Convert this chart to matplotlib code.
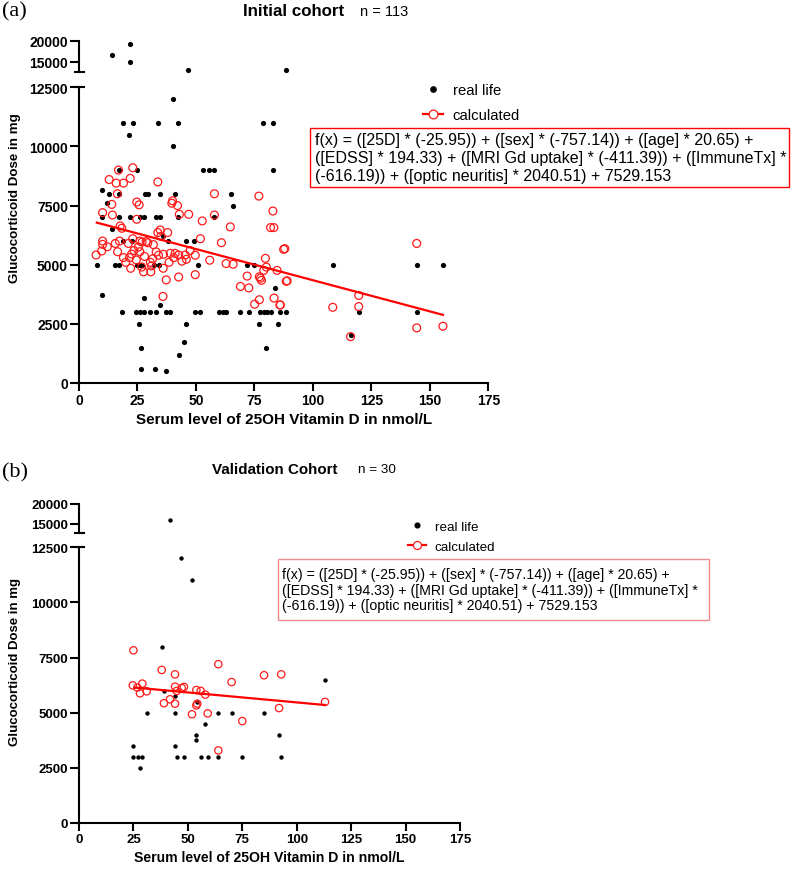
import numpy as np
import matplotlib
matplotlib.use("Agg")
import matplotlib.pyplot as plt
import matplotlib.patches as patch
from matplotlib.lines import Line2D

plt.rcParams['font.family'] = ['Liberation Sans', 'DejaVu Sans']

W, H = 794, 870

# (a) initial cohort, real life doses
init_real_x = [14.2, 22.0, 21.8, 46.4, 88.3,
               40.0,
               19.0, 23.0, 33.7, 42.4, 78.7, 82.9,
               21.4, 40.1,
               16.9, 24.7, 52.9, 55.6, 57.9, 82.9,
               9.9, 12.9, 17.3, 28.1, 29.4, 34.7, 40.9, 64.9,
               11.9, 65.9,
               10.0, 17.3, 21.6, 25.9, 27.6, 33.0, 34.7, 42.4, 57.9,
               14.0, 35.9, 18.7, 22.6, 37.9, 45.9, 49.0,
               7.6, 15.4, 17.3, 24.7, 26.1, 27.1, 32.1, 34.4, 50.9, 71.9, 75.0, 108.5, 144.4, 155.6,
               83.6, 10.0, 27.9, 34.7,
               18.4, 24.4, 26.1, 27.9, 30.4, 33.0, 37.3, 39.0, 49.7, 51.9, 59.7, 61.6,
               63.0, 69.0, 72.7, 77.3, 79.0, 80.4, 82.3, 86.1, 88.3, 119.6, 144.4,
               25.7, 45.7, 77.0, 85.0,
               116.1, 45.1, 26.6, 79.9, 42.7, 26.6, 32.4, 37.3]
init_real_y = [16600, 19200, 15000, 13000, 13000,
               12000,
               11000, 11000, 11000, 11000, 11000, 11000,
               10500, 10000,
               9000, 9000, 9000, 9000, 9000, 9000,
               8150, 8000, 8000, 8000, 8000, 8000, 8000, 8000,
               7600, 7500,
               7000, 7000, 7000, 7000, 7000, 7000, 7000, 7000, 7000,
               6500, 6200, 6000, 6000, 6000, 6000, 6000,
               5000, 5000, 5000, 5000, 5000, 5000, 5000, 5000, 5000, 5000, 5000, 5000, 5000, 5000,
               4000, 3700, 3600, 3300,
               3000, 3000, 3000, 3000, 3000, 3000, 3000, 3000, 3000, 3000, 3000, 3000,
               3000, 3000, 3000, 3000, 3000, 3000, 3000, 3000, 3000, 3000, 3000,
               2500, 2500, 2500, 2500,
               2050, 1750, 1500, 1500, 1200, 600, 600, 500]

# (a) initial cohort, calculated doses
init_calc_x = [23.0, 16.9, 12.9, 15.9, 19.0, 21.9, 33.7, 16.4, 14.0, 24.7,
               25.7, 40.0, 39.7, 42.1, 57.9, 76.9, 10.1, 14.3, 42.9, 46.9,
               24.7, 52.7, 57.9, 82.9, 64.7, 81.9, 83.3, 17.6, 18.3, 10.1,
               10.1, 7.3, 9.7, 12.1, 17.3, 21.1, 26.0, 27.0, 28.7, 25.4,
               26.0, 29.4, 33.7, 34.7, 37.9, 33.0, 34.0, 36.1, 39.0, 41.1,
               42.6, 45.4, 45.9, 49.7, 51.9, 55.9, 60.9, 62.9, 65.9, 71.9,
               79.7, 79.0, 84.7, 88.0, 77.1, 19.0, 21.6, 22.1, 27.6, 30.7,
               37.3, 42.6, 49.7, 35.9, 69.0, 72.6, 75.1, 77.6, 78.0, 80.1,
               83.4, 85.9, 89.0, 77.1, 144.4, 87.5, 88.6, 119.6, 108.5, 119.6,
               86.1, 144.4, 155.6, 116.1,
               23.5, 24.5, 28.0, 30.5, 31.5, 20.0, 15.5, 23.0, 31.8, 35.0,
               38.5, 40.5, 44.0, 47.5, 22.5, 26.8, 31.0, 36.0, 16.5]
init_calc_y = [9100, 9000, 8600, 8450, 8450, 8650, 8500, 8000, 7550, 7650,
               7530, 7700, 7600, 7500, 8000, 7900, 7200, 7100, 7130, 7130,
               6920, 6850, 7100, 7270, 6600, 6570, 6570, 6640, 6540, 6000,
               5860, 5410, 5580, 5760, 6000, 5900, 6000, 5960, 5980, 5750,
               5550, 5930, 6360, 6470, 6360, 5540, 5400, 5440, 5480, 5480,
               5410, 5410, 5230, 5400, 6100, 5190, 5930, 5050, 5020, 4520,
               5270, 4760, 4760, 5680, 4490, 5300, 5300, 4850, 4700, 4700,
               4360, 4480, 4580, 3660, 4080, 4020, 3330, 4430, 4340, 4900,
               3590, 3300, 4320, 3520, 5900, 5650, 4300, 3700, 3200, 3230,
               3300, 2330, 2400, 1960,
               5600, 5200, 5350, 5100, 5250, 5100, 5900, 6100, 5850, 6200,
               5100, 5300, 5150, 5600, 5450, 4900, 4950, 4850, 5550]
init_fit_x = [7.6, 155.6]
init_fit_y = [6780, 2880]

# (b) validation cohort
val_real_x = [41.9, 46.9, 52.1, 38.0, 39.0, 44.1, 44.1, 31.1, 54.1, 64.0,
              70.1, 85.0, 57.9, 53.9, 53.9, 91.9, 25.0, 44.1, 25.0, 27.3,
              29.1, 44.9, 48.1, 56.0, 59.1, 64.0, 75.0, 92.9, 28.0, 113.0]
val_real_y = [16000, 12000, 11000, 8000, 6000, 5750, 5000, 5000, 5500, 5000,
              5000, 5000, 4500, 4000, 3750, 4000, 3500, 3500, 3000, 3000,
              3000, 3000, 3000, 3000, 3000, 3000, 3000, 3000, 2500, 6500]
val_calc_x = [25.0, 24.7, 26.8, 28.0, 29.1, 31.1, 38.0, 39.0, 41.8, 44.1,
              44.1, 44.1, 44.9, 47.2, 48.2, 51.9, 53.9, 53.9, 54.3, 55.9,
              58.0, 59.1, 64.0, 64.0, 70.1, 75.0, 85.0, 91.9, 92.9, 113.0]
val_calc_y = [7830, 6240, 6140, 5880, 6320, 5970, 6940, 5430, 5610, 6740,
              6180, 5410, 5990, 6120, 6170, 4930, 6030, 5330, 5410, 5990,
              5820, 4970, 7200, 3290, 6390, 4620, 6700, 5210, 6740, 5490]
val_fit_x = [25.7, 113.0]
val_fit_y = [6140, 5350]

x_ticks = [0, 25, 50, 75, 100, 125, 150, 175]
y_ticks_low = [0, 2500, 5000, 7500, 10000, 12500]
y_ticks_high = [15000, 20000]
Y_BREAK = 12500
Y_TOP = 20000

FORMULA = ("f(x) = ([25D] * (-25.95)) + ([sex] * (-757.14)) + ([age] * 20.65) +\n"
           "([EDSS] * 194.33) + ([MRI Gd uptake] * (-411.39)) + ([ImmuneTx] *\n"
           "(-616.19)) + ([optic neuritis] * 2040.51) + 7529.153")


def fig_rect(x0, y0, x1, y1):
    # pixel box (top-left origin) -> figure fraction rect
    return [x0 / W, 1 - y1 / H, (x1 - x0) / W, (y1 - y0) / H]


def draw_panel(fig, cfg, real_x, real_y, calc_x, calc_y, fit_x, fit_y):
    ax_hi = fig.add_axes(fig_rect(*cfg['hi']))
    ax_lo = fig.add_axes(fig_rect(*cfg['lo']))
    rx, ry = np.asarray(real_x), np.asarray(real_y)
    cx, cy = np.asarray(calc_x), np.asarray(calc_y)
    hi = ry > Y_BREAK

    ax_lo.scatter(rx[~hi], ry[~hi], s=cfg['s_dot'], color='black', lw=0, zorder=3)
    ax_hi.scatter(rx[hi], ry[hi], s=cfg['s_dot'], color='black', lw=0, zorder=3, clip_on=False)
    ax_lo.scatter(cx, cy, s=cfg['s_circ'], facecolors='none', edgecolors='#ff1a1a',
                  linewidths=0.9, zorder=4)
    ax_lo.plot(fit_x, fit_y, color='#ff0000', lw=1.6, zorder=5)

    for ax in (ax_lo, ax_hi):
        ax.set_xlim(0, 175)
        for side in ('top', 'right'):
            ax.spines[side].set_visible(False)
        ax.spines['left'].set_linewidth(1.5)
        ax.tick_params(axis='y', direction='out', length=6.5, width=1.5,
                       labelsize=cfg['tick_fs'], pad=1.5)
    ax_hi.spines['bottom'].set_visible(False)
    ax_hi.set_xticks([])
    ax_hi.set_ylim(Y_BREAK, Y_TOP)
    ax_hi.set_yticks(y_ticks_high)
    ax_hi.set_yticklabels([str(t) for t in y_ticks_high], fontweight='bold')

    ax_lo.set_ylim(0, Y_BREAK)
    ax_lo.set_yticks(y_ticks_low)
    ax_lo.set_yticklabels([str(t) for t in y_ticks_low], fontweight='bold')
    ax_lo.set_xticks(x_ticks)
    ax_lo.set_xticklabels([str(t) for t in x_ticks], fontweight='bold')
    ax_lo.spines['bottom'].set_linewidth(1.5)
    ax_lo.tick_params(axis='x', direction='out', length=5.5, width=1.5,
                      labelsize=cfg['tick_fs'], pad=2)
    ax_lo.set_xlabel("Serum level of 25OH Vitamin D in nmol/L", fontsize=cfg['xlab_fs'],
                     fontweight='bold', labelpad=3)

    # break caps on the y axis
    cap = 4.5 / (cfg['lo'][2] - cfg['lo'][0])
    ax_hi.plot([-cap, cap], [0, 0], transform=ax_hi.transAxes, color='black', lw=1.5, clip_on=False)
    ax_lo.plot([-cap, cap], [1, 1], transform=ax_lo.transAxes, color='black', lw=1.5, clip_on=False)

    fig.text(15 / W, 1 - cfg['ylab_y'] / H, "Glucocorticoid Dose in mg", rotation=90,
             ha='center', va='center', fontsize=cfg['ylab_fs'], fontweight='bold')

    tx, ty = cfg['title']
    fig.text(tx / W, 1 - ty / H, cfg['title_txt'], ha='left', va='center',
             fontsize=cfg['title_fs'], fontweight='bold')
    nx, _ = cfg['n']
    fig.text(nx / W, 1 - ty / H, cfg['n_txt'], ha='left', va='center', fontsize=cfg['n_fs'])
    lx, ly = cfg['letter']
    fig.text(lx / W, 1 - ly / H, cfg['letter_txt'], ha='left', va='center',
             fontsize=16, family=['Liberation Serif', 'DejaVu Serif'])

    handles = [Line2D([], [], ls='none', marker='o', color='black', ms=cfg['leg_ms']),
               Line2D([], [], color='#ff0000', lw=1.6, marker='o', mfc='white',
                      mec='#ff1a1a', mew=0.9, ms=cfg['leg_ms2'])]
    lgx, lgy = cfg['legend']
    ax_lo.legend(handles, ['real life', 'calculated'], loc='center left',
                 bbox_to_anchor=(lgx / W, 1 - lgy / H), bbox_transform=fig.transFigure,
                 frameon=False, borderpad=0, borderaxespad=0, handlelength=1.35,
                 handletextpad=0.65, labelspacing=cfg['leg_sp'], fontsize=cfg['leg_fs'])

    bx0, by0, bx1, by1 = cfg['box']
    fig.add_artist(patch.Rectangle((bx0 / W, 1 - by1 / H), (bx1 - bx0) / W, (by1 - by0) / H,
                                   transform=fig.transFigure, fill=False,
                                   ec=cfg['box_ec'], lw=1.0))
    fig.text((bx0 + cfg['box_pad']) / W, 1 - (by0 + by1) / 2 / H, FORMULA, ha='left',
             va='center', fontsize=cfg['box_fs'], linespacing=cfg['box_ls'])
    return ax_lo, ax_hi


fig = plt.figure(figsize=(W / 100, H / 100), dpi=100)

cfg_a = dict(lo=(79, 88.3, 488.3, 384), hi=(79, 41.7, 488.3, 73.3),
             s_dot=14, s_circ=32, tick_fs=10, xlab_fs=11, ylab_fs=9.6, ylab_y=198,
             title=(243, 12), title_txt="Initial cohort", title_fs=12.2,
             n=(360, 12), n_txt="n = 113", n_fs=10.5,
             letter=(2, 12), letter_txt="(a)",
             legend=(423, 103.5), leg_ms=3.8, leg_ms2=6.3, leg_sp=0.75, leg_fs=10.7,
             box=(310, 129, 789, 188), box_ec='#ff0000', box_pad=5, box_fs=11.5, box_ls=1.22)
cfg_b = dict(lo=(79, 548.3, 460, 824), hi=(79, 505, 460, 534.3),
             s_dot=10, s_circ=28, tick_fs=9.5, xlab_fs=10.1, ylab_fs=9.5, ylab_y=662,
             title=(212, 470), title_txt="Validation Cohort", title_fs=10.9,
             n=(358, 470), n_txt="n = 30", n_fs=9.7,
             letter=(2, 473), letter_txt="(b)",
             legend=(408, 537.5), leg_ms=3.4, leg_ms2=5.8, leg_sp=0.58, leg_fs=9.6,
             box=(278, 560, 709, 621), box_ec='#f28b8b', box_pad=4, box_fs=10.2, box_ls=1.13)

draw_panel(fig, cfg_a, init_real_x, init_real_y, init_calc_x, init_calc_y, init_fit_x, init_fit_y)
draw_panel(fig, cfg_b, val_real_x, val_real_y, val_calc_x, val_calc_y, val_fit_x, val_fit_y)

fig.savefig("out.png", dpi=100)
